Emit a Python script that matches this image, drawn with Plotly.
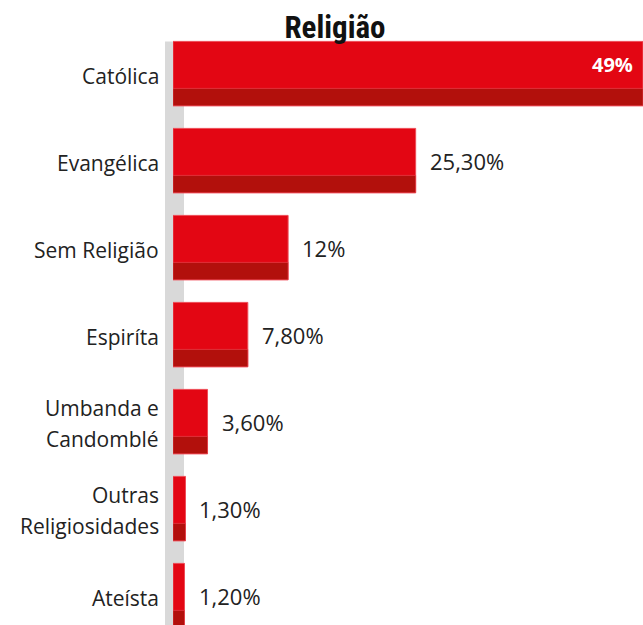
import plotly.graph_objects as go

categories = ["Católica", "Evangélica", "Sem Religião", "Espiríta",
              "Umbanda e\nCandomblé", "Outras\nReligiosidades", "Ateísta"]
values = [49, 25.3, 12, 7.8, 3.6, 1.3, 1.2]
value_labels = ["49%", "25,30%", "12%", "7,80%", "3,60%", "1,30%", "1,20%"]
title_text = "Religião"

BRIGHT = "#e30613"
DARK = "#b2100c"
EDGE = "#ee4c57"
TXT = "#222222"
FONT = "Open Sans"

ycats = [c.replace("\n", " ") for c in categories]

fig = go.Figure()
fig.add_trace(go.Bar(
    y=ycats, x=values, orientation="h", width=0.74, offset=-0.37,
    marker=dict(color=BRIGHT, line=dict(color=EDGE, width=1)),
    hoverinfo="skip", showlegend=False))
fig.add_trace(go.Bar(
    y=ycats, x=values, orientation="h", width=0.2, offset=0.17,
    marker=dict(color=DARK, line=dict(color=EDGE, width=0.6)),
    hoverinfo="skip", showlegend=False))

# grey strip behind the bars
fig.add_shape(type="rect", xref="paper", yref="y",
              x0=-8 / 470, x1=11 / 470, y0=-0.37, y1=7,
              fillcolor="#d9d9d9", line=dict(width=0), layer="below")

annotations = []
for i, (cat, val, lab) in enumerate(zip(categories, values, value_labels)):
    lines = cat.split("\n")
    n = len(lines)
    for j, ln in enumerate(lines):
        annotations.append(dict(
            x=0, xref="paper", y=ycats[i], yref="y", text=ln, showarrow=False,
            xanchor="right", yanchor="middle", xshift=-12,
            yshift=((n - 1) / 2 - j) * 31 - 2,
            font=dict(family=FONT, size=21, color=TXT)))
    if i == 0:
        annotations.append(dict(
            x=val, xref="x", y=ycats[i], yref="y", text="<b>" + lab + "</b>",
            showarrow=False, xanchor="right", yanchor="middle", xshift=-8,
            yshift=9, font=dict(family=FONT, size=20, color="white")))
    else:
        annotations.append(dict(
            x=val, xref="x", y=ycats[i], yref="y", text=lab, showarrow=False,
            xanchor="left", yanchor="middle", xshift=12, yshift=0,
            font=dict(family=FONT, size=22, color=TXT)))

fig.update_layout(
    width=643, height=625,
    margin=dict(l=173, r=0, t=30, b=0),
    paper_bgcolor="white", plot_bgcolor="white",
    barmode="overlay",
    title=dict(text="<b>" + title_text + "</b>", x=335 / 643, xref="container",
               xanchor="center", y=1 - 27 / 625, yref="container", yanchor="middle",
               font=dict(family="Roboto Condensed, Liberation Sans Narrow, DejaVu Sans Condensed, Arial Narrow, sans-serif",
                         size=31, color="#111111")),
    xaxis=dict(range=[0, 49], visible=False, fixedrange=True),
    yaxis=dict(range=[6.338, -0.501], showticklabels=False, showgrid=False,
               zeroline=False, ticks="", fixedrange=True),
    annotations=annotations,
)

fig.write_html("out.html", config={"displayModeBar": False},
               post_script="document.body.style.margin='0';document.body.style.overflow='hidden';")
